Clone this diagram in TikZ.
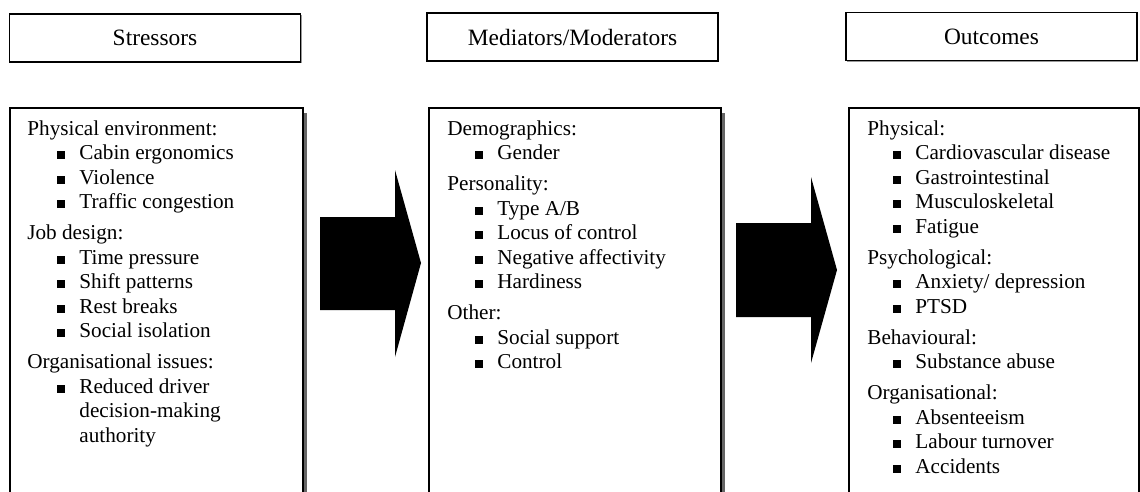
\documentclass[tikz,border=0pt]{standalone}
\usepackage{fontspec}
\setmainfont{Liberation Serif}
\usetikzlibrary{shadows}
\newcommand{\sqbul}{\rule[0.5pt]{3.9pt}{3.9pt}\hspace{7.1pt}}

\begin{document}
\begin{tikzpicture}[x=0.5pt, y=-0.5pt, text=black,
  hdrbox/.style={draw, line width=0.8pt, fill=white, inner sep=0pt,
    minimum width=145.5pt, minimum height=24pt,
    font=\fontsize{11.7}{14}\selectfont,
    drop shadow={shadow xshift=0.7pt, shadow yshift=-0.7pt,
      fill=gray, opacity=0.8}},
  listbox/.style={draw, line width=0.8pt, fill=white, inner sep=0pt,
    anchor=north west, minimum height=220pt,
    drop shadow={shadow xshift=2pt, shadow yshift=-2.5pt,
      fill=gray!80!black, opacity=1}},
  grp/.style={anchor=mid west, inner sep=0pt,
    font=\fontsize{10.6}{12}\selectfont},
  itm/.style={grp}]
\useasboundingbox (0,0) rectangle (1140,492);
\clip (0,0) rectangle (1140,492);

% column headings
\path (155,38) node (stressors) [hdrbox] {Stressors};
\path (572.5,37) node (mediators) [hdrbox] {Mediators/Moderators};
\path (991.5,36.5) node (outcomes) [hdrbox] {Outcomes};

% list boxes
\path (9,107) node (stressbox) [listbox, minimum width=146.5pt] {};
\path (428,107) node (medbox) [listbox, minimum width=146pt] {};
\path (848,107) node (outbox) [listbox, minimum width=145pt] {};

% stressors
\path (27,131) node (sA) [grp] {Physical environment:};
\path (57,155) node (sA1) [itm] {\sqbul Cabin ergonomics};
\path (57,180) node (sA2) [itm] {\sqbul Violence};
\path (57,204) node (sA3) [itm] {\sqbul Traffic congestion};
\path (27,235) node (sB) [grp] {Job design:};
\path (57,260) node (sB1) [itm] {\sqbul Time pressure};
\path (57,284) node (sB2) [itm] {\sqbul Shift patterns};
\path (57,309) node (sB3) [itm] {\sqbul Rest breaks};
\path (57,333) node (sB4) [itm] {\sqbul Social isolation};
\path (27,364) node (sC) [grp] {Organisational issues:};
\path (57,389) node (sC1) [itm] {\sqbul Reduced driver};
\path (79,413) node (sC1b) [itm] {decision-making};
\path (79,438) node (sC1c) [itm] {authority};

% mediators / moderators
\path (447,131) node (mA) [grp] {Demographics:};
\path (475,155) node (mA1) [itm] {\sqbul Gender};
\path (447,186) node (mB) [grp] {Personality:};
\path (475,211) node (mB1) [itm] {\sqbul Type A/B};
\path (475,235) node (mB2) [itm] {\sqbul Locus of control};
\path (475,260) node (mB3) [itm] {\sqbul Negative affectivity};
\path (475,284) node (mB4) [itm] {\sqbul Hardiness};
\path (447,315) node (mC) [grp] {Other:};
\path (475,340) node (mC1) [itm] {\sqbul Social support};
\path (475,364) node (mC2) [itm] {\sqbul Control};

% outcomes
\path (867,131) node (oA) [grp] {Physical:};
\path (893,155) node (oA1) [itm] {\sqbul Cardiovascular disease};
\path (893,180) node (oA2) [itm] {\sqbul Gastrointestinal};
\path (893,204) node (oA3) [itm] {\sqbul Musculoskeletal};
\path (893,229) node (oA4) [itm] {\sqbul Fatigue};
\path (867,260) node (oB) [grp] {Psychological:};
\path (893,284) node (oB1) [itm] {\sqbul Anxiety/ depression};
\path (893,309) node (oB2) [itm] {\sqbul PTSD};
\path (867,340) node (oC) [grp] {Behavioural:};
\path (893,364) node (oC1) [itm] {\sqbul Substance abuse};
\path (867,395) node (oD) [grp] {Organisational:};
\path (893,420) node (oD1) [itm] {\sqbul Absenteeism};
\path (893,444) node (oD2) [itm] {\sqbul Labour turnover};
\path (893,469) node (oD3) [itm] {\sqbul Accidents};

% block arrows
\fill (320,217) -- (395,217) -- (395,170) -- (421,263)
  -- (395,357) -- (395,310) -- (320,310) -- cycle;
\fill (736,223) -- (811,223) -- (811,177) -- (837,270)
  -- (811,363) -- (811,317) -- (736,317) -- cycle;
\end{tikzpicture}
\end{document}
